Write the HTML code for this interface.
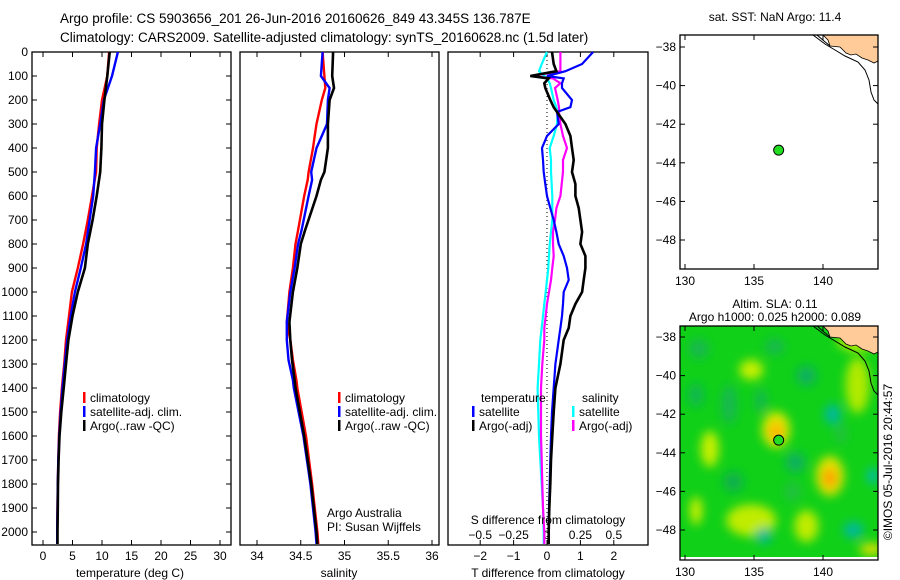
<!DOCTYPE html>
<html><head><meta charset="utf-8"><style>
html,body{margin:0;padding:0;background:#fff;}
svg{display:block;font-family:"Liberation Sans",sans-serif;}
text{font-size:12px;fill:#000;}
</style></head><body>
<svg id="c" width="900" height="580" viewBox="0 0 900 580">
<text x="60" y="23" style="font-size:13.5px">Argo profile: CS 5903656_201 26-Jun-2016 20160626_849 43.345S 136.787E</text>
<text x="60" y="42" style="font-size:13.5px">Climatology: CARS2009. Satellite-adjusted climatology: synTS_20160628.nc (1.5d later)</text>
<g id="g"></g>
</svg>
<script>
// ---- data ----
const depthT = [0,100,200,300,400,500,600,700,800,900,1000,1100,1200,1300,1400,1500,1600,1700,1800,1900,2000,2050];
const tempClim = [11.2,10.9,10.0,9.5,9.1,9.0,8.3,7.6,6.8,5.9,4.9,4.4,3.9,3.6,3.2,2.9,2.7,2.6,2.5,2.45,2.4,2.4];
const tempSat  = [12.7,11.7,10.3,9.7,9.0,8.8,8.5,7.9,7.3,6.4,5.4,4.7,4.1,3.7,3.3,3.0,2.75,2.6,2.5,2.45,2.4,2.4];
const tempArgo = [11.3,10.9,10.4,10.0,9.9,9.7,9.1,8.4,7.6,7.1,5.9,5.0,4.3,3.9,3.5,3.1,2.8,2.65,2.55,2.5,2.45,2.45];
const depthS = [0,100,150,200,300,350,400,500,533,600,742,800,900,1000,1125,1200,1283,1367,1400,1600,1800,2000,2050];
const salClim = [34.75,34.77,34.78,34.74,34.68,34.66,34.64,34.59,34.58,34.54,34.47,34.44,34.41,34.37,34.34,34.38,34.41,34.45,34.46,34.56,34.63,34.69,34.7];
const salSat  = [34.75,34.73,34.83,34.81,34.80,34.74,34.68,34.62,34.63,34.59,34.51,34.47,34.43,34.38,34.34,34.34,34.36,34.41,34.42,34.53,34.61,34.67,34.68];
const salArgo = [34.87,34.86,34.88,34.83,34.81,34.81,34.81,34.77,34.73,34.68,34.55,34.50,34.46,34.41,34.37,34.38,34.40,34.43,34.44,34.54,34.62,34.68,34.69];
const depthD = [0,50,80,100,110,130,150,200,230,250,300,350,400,450,500,550,600,650,700,750,800,850,900,950,1000,1050,1100,1150,1200,1300,1400,1500,1600,1700,1800,1900,2000,2050];
const dTsat  = [1.38,1.05,0.55,0.0,0.5,0.45,0.45,0.75,0.7,0.3,0.35,0.0,-0.15,-0.12,-0.1,-0.05,0.0,0.1,0.2,0.28,0.35,0.5,0.6,0.65,0.5,0.48,0.45,0.4,0.35,0.25,0.2,0.15,0.12,0.1,0.08,0.06,0.05,0.05];
const dTargo = [0.15,0.2,0.28,-0.5,0.05,-0.08,-0.05,0.1,0.2,0.3,0.55,0.7,0.75,0.8,0.75,0.85,0.85,0.95,1.0,1.05,1.0,1.15,1.15,1.1,1.05,0.85,0.7,0.65,0.5,0.4,0.25,0.2,0.16,0.12,0.1,0.07,0.05,0.05];
const dSsat  = [0.0,-0.04,-0.06,-0.02,0.0,0.02,0.03,0.05,0.07,0.08,0.075,0.05,0.02,0.03,0.03,0.035,0.04,0.04,0.04,0.03,0.02,0.015,0.01,0.0,-0.01,-0.02,-0.03,-0.04,-0.05,-0.06,-0.07,-0.065,-0.06,-0.05,-0.04,-0.03,-0.025,-0.025];
const dSargo = [0.1,0.1,0.1,-0.12,0.045,0.1,0.06,0.08,0.09,0.09,0.1,0.12,0.15,0.12,0.12,0.11,0.1,0.07,0.06,0.045,0.045,0.05,0.04,0.03,0.015,0.0,-0.01,-0.02,-0.02,-0.035,-0.045,-0.045,-0.045,-0.04,-0.035,-0.03,-0.02,-0.02];
const depthTicks = [0,100,200,300,400,500,600,700,800,900,1000,1100,1200,1300,1400,1500,1600,1700,1800,1900,2000];
const tempTicks = [0,5,10,15,20,25,30];
const salTicks = [34,34.5,35,35.5,36];
const tdTicks = [-2,-1,0,1,2];
const sdTicks = [-0.5,-0.25,0,0.25,0.5];
const sdTickLabels = ["-0.5","-0.25","0","0.25","0.5"];
const latTicks = [-38,-40,-42,-44,-46,-48];
const lonTicks = [130,135,140];
const floatLon = 136.787, floatLat = -43.345;
const sla = "0.11", h1000 = "0.025", h2000 = "0.089";

// ---- axes ----
const TOP=52, BOT=545;
const yD = d => 52 + d*0.24;
const xT = t => 43 + t*5.9;
const xS = s => 257 + (s-34)*87.5;
const xTd = t => 547 + t*33.4;
const xSd = s => 547 + s*133.6;
const xLon = l => 685 + (l-130)*13.8;
const yLat1 = l => 47 + (-38-l)*19.3;
const yLat2 = l => 337 + (-38-l)*19.3;

const NS="http://www.w3.org/2000/svg";
const G=document.getElementById('g');
function el(tag,attrs,parent){const e=document.createElementNS(NS,tag);for(const k in attrs)e.setAttribute(k,attrs[k]);(parent||G).appendChild(e);return e;}
function txt(x,y,s,anchor,parent){const t=el('text',{x:x,y:y,'text-anchor':anchor||'start'},parent);t.textContent=s;return t;}

function panel(x0,x1,name){
  const r=el('rect',{x:x0,y:TOP,width:x1-x0,height:BOT-TOP,fill:'none',stroke:'#000','stroke-width':1.3});
  
  
}
function series(xs,ds,xf,color,w,name){
  const pts=xs.map((v,i)=>xf(v).toFixed(1)+','+yD(ds[i]).toFixed(1)).join(' ');
  const p=el('polyline',{points:pts,fill:'none',stroke:color,'stroke-width':w});
  
  
}
function legendItem(x,y,color,label,name){
  el('rect',{x:x,y:y-10,width:2.5,height:11,fill:color});
  const t=txt(x+7,y,label);
  
  
}
function xticks(vals,xf,labels,name,ly){
  vals.forEach((v,i)=>{
    el('line',{x1:xf(v),x2:xf(v),y1:BOT,y2:BOT-5,stroke:'#000'});
    el('line',{x1:xf(v),x2:xf(v),y1:TOP,y2:TOP+5,stroke:'#000'});
    const l=txt(xf(v),ly,labels[i].replace('-','\u2212'),'middle');
    
    
  });
}

// depth labels
depthTicks.forEach(d=>{
  const t=txt(28,yD(d)+4,String(d),'end');
  
  
  el('line',{x1:32,x2:37,y1:yD(d),y2:yD(d),stroke:'#000'});
  el('line',{x1:226,x2:231,y1:yD(d),y2:yD(d),stroke:'#000'});
});

// panel 1
panel(32,231,'temperature-panel');
xticks(tempTicks,xT,tempTicks.map(String),'temperature-tick-label',560);
series(tempClim,depthT,xT,'#ff0000',2.4,'temperature-climatology-line');
series(tempSat,depthT,xT,'#0000ff',2.4,'temperature-satellite-line');
series(tempArgo,depthT,xT,'#000000',2.6,'temperature-argo-line');
legendItem(83,402,'#ff0000','climatology','legend-climatology');
legendItem(83,416,'#0000ff','satellite-adj. clim.','legend-satellite');
legendItem(83,430,'#000000','Argo(..raw -QC)','legend-argo');
{const t=txt(130,577,'temperature (deg C)','middle');}

// panel 2
panel(240,439,'salinity-panel');
xticks(salTicks,xS,salTicks.map(String),'salinity-tick-label',560);
series(salClim,depthS,xS,'#ff0000',2.4,'salinity-climatology-line');
series(salSat,depthS,xS,'#0000ff',2.4,'salinity-satellite-line');
series(salArgo,depthS,xS,'#000000',2.6,'salinity-argo-line');
legendItem(338,402,'#ff0000','climatology','legend-climatology-2');
legendItem(338,416,'#0000ff','satellite-adj. clim.','legend-satellite-2');
legendItem(338,430,'#000000','Argo(..raw -QC)','legend-argo-2');
{const t=txt(327,517,'Argo Australia');}
{const t=txt(327,531,'PI: Susan Wijffels');}
{const t=txt(339,577,'salinity','middle');}

// panel 3
panel(448,648,'difference-panel');
el('line',{x1:xTd(0),x2:xTd(0),y1:TOP,y2:BOT,stroke:'#000','stroke-dasharray':'1,3'});
xticks(tdTicks,xTd,tdTicks.map(String),'t-diff-tick-label',560);
sdTicks.forEach((s,i)=>{
  const l=txt(xSd(s),539,sdTickLabels[i].replace('-','\u2212'),'middle');
  
  });
series(dSsat,depthD,xSd,'#00ffff',2.2,'salinity-satellite-diff-line');
series(dSargo,depthD,xSd,'#ff00ff',2.2,'salinity-argo-diff-line');
series(dTsat,depthD,xTd,'#0000ff',2.2,'temperature-satellite-diff-line');
series(dTargo,depthD,xTd,'#000000',2.6,'temperature-argo-diff-line');
{const t=txt(481,402,'temperature');}
legendItem(472,416,'#0000ff','satellite','legend-t-satellite');
legendItem(472,430,'#000000','Argo(-adj)','legend-t-argo');
{const t=txt(582,402,'salinity');}
legendItem(572,416,'#00ffff','satellite','legend-s-satellite');
legendItem(572,430,'#ff00ff','Argo(-adj)','legend-s-argo');
{const t=txt(548,524,'S difference from climatology','middle');}
{const t=txt(548,577,'T difference from climatology','middle');}

// maps
function mapFrame(top,yL,name,title1,title2,heat){
  const h=234;
  const gg=el('g',{});
  
  
  if(heat){
    const defs=el('defs',{},gg);
    const f=el('filter',{id:'bl',x:'-50%',y:'-50%',width:'200%',height:'200%'},defs);
    el('feGaussianBlur',{stdDeviation:5},f);
    const cp=el('clipPath',{id:'mc'},defs);
    el('rect',{x:680,y:top,width:198,height:h-3},cp);
    const hg=el('g',{'clip-path':'url(#mc)'},gg);
    el('rect',{x:680,y:top,width:198,height:h,fill:'#10d018'},hg);
    const bl=el('g',{filter:'url(#bl)'},hg);
    const blobs=[[136.6,-42.8,14,18,'#e0e800'],[136.6,-42.9,7,9,'#ffb000'],[140.5,-45.2,14,20,'#e0e400'],[140.5,-45.3,7,10,'#ff9c00'],[131.8,-43.8,9,18,'#c8f000'],
      [134.8,-39.7,12,10,'#c8f000'],[134.8,-47.5,25,16,'#c0ec00'],[138.8,-47.8,12,16,'#c0ec00'],[142.5,-40.5,12,28,'#b0ea00'],[142.5,-38.2,20,10,'#c0f000'],
      [138.8,-40.0,10,10,'#10b060'],[140.7,-42.0,8,10,'#00b8a0'],[138.0,-44.5,10,10,'#10b060'],[143.6,-45.2,5,8,'#00b8c0'],[142.2,-48.0,10,8,'#00b8a0'],
      [135.7,-48.3,8,8,'#00b898'],[130.8,-47.0,6,14,'#d0f000'],[143.5,-49,12,6,'#e0e000'],[133.5,-45.5,10,10,'#10b050'],[130.8,-41,8,12,'#10b850'],
      [133.2,-41.5,8,20,'#18b850'],[135.5,-41.3,6,12,'#18b850'],[131,-38.6,10,10,'#18b850'],[136.5,-38.5,10,8,'#18b850'],[137.8,-46,8,10,'#20c040'],[141.3,-43,6,10,'#20c040']];
    blobs.forEach(b=>{const c=el('ellipse',{cx:xLon(b[0]),cy:yL(b[1]),rx:b[2],ry:b[3],fill:b[4]},bl);
      
      });
  }
  const off=top-35;
  const land=el('polygon',{points:[[823,35],[828,40],[830,46],[840,47],[846,53],[851,55],[856,54],[862,58],[868,60],[874,63],[878,61],[878,35]].map(p=>p[0]+','+(p[1]+off)).join(' '),fill:'#ffcc99',stroke:'#000','stroke-width':0.8},gg);
  
  
  el('polyline',{points:[[813,35],[825,44],[835,50],[845,56],[858,62],[865,70],[869,80],[871,92],[874,100],[878,104]].map(p=>p[0]+','+(p[1]+off)).join(' '),fill:'none',stroke:'#000','stroke-width':1},gg);
  el('polyline',{points:[[817,35],[824,41],[830,46]].map(p=>p[0]+','+(p[1]+off)).join(' '),fill:'none',stroke:'#000','stroke-width':1},gg);
  el('rect',{x:680,y:top,width:198,height:h,fill:'none',stroke:'#000','stroke-width':1.3},gg);
  latTicks.forEach(l=>{el('line',{x1:680,x2:685,y1:yL(l),y2:yL(l),stroke:'#000'},gg);el('line',{x1:873,x2:878,y1:yL(l),y2:yL(l),stroke:'#000'},gg);
    const t=txt(676,yL(l)+4,String(l).replace('-','\u2212'),'end',gg);
    
    });
  lonTicks.forEach(l=>{el('line',{x1:xLon(l),x2:xLon(l),y1:top,y2:top+5,stroke:'#000'},gg);el('line',{x1:xLon(l),x2:xLon(l),y1:top+h,y2:top+h-5,stroke:'#000'},gg);
    const t=txt(xLon(l),top+h+16,String(l),'middle',gg);
    
    });
  const fm=el('circle',{cx:xLon(floatLon),cy:yL(floatLat),r:5,fill:'#22dd22',stroke:'#000','stroke-width':1},gg);
  
  
  if(title2){const t=txt(775,top-18,title1,'middle',gg);
    const t2=txt(775,top-5,title2,'middle',gg);}
  else{const t=txt(775,top-14,title1,'middle',gg);}
}
mapFrame(35,yLat1,'sst-map','sat. SST: NaN Argo: 11.4',null,false);
mapFrame(326,yLat2,'sla-map','Altim. SLA: '+sla,'Argo h1000: '+h1000+' h2000: '+h2000,true);
{const t=el('text',{x:0,y:0,transform:'translate(892,462) rotate(-90)','text-anchor':'middle'});t.textContent='\u00A9IMOS 05-Jul-2016 20:44:57';
 
 }
</script>
</body></html>
